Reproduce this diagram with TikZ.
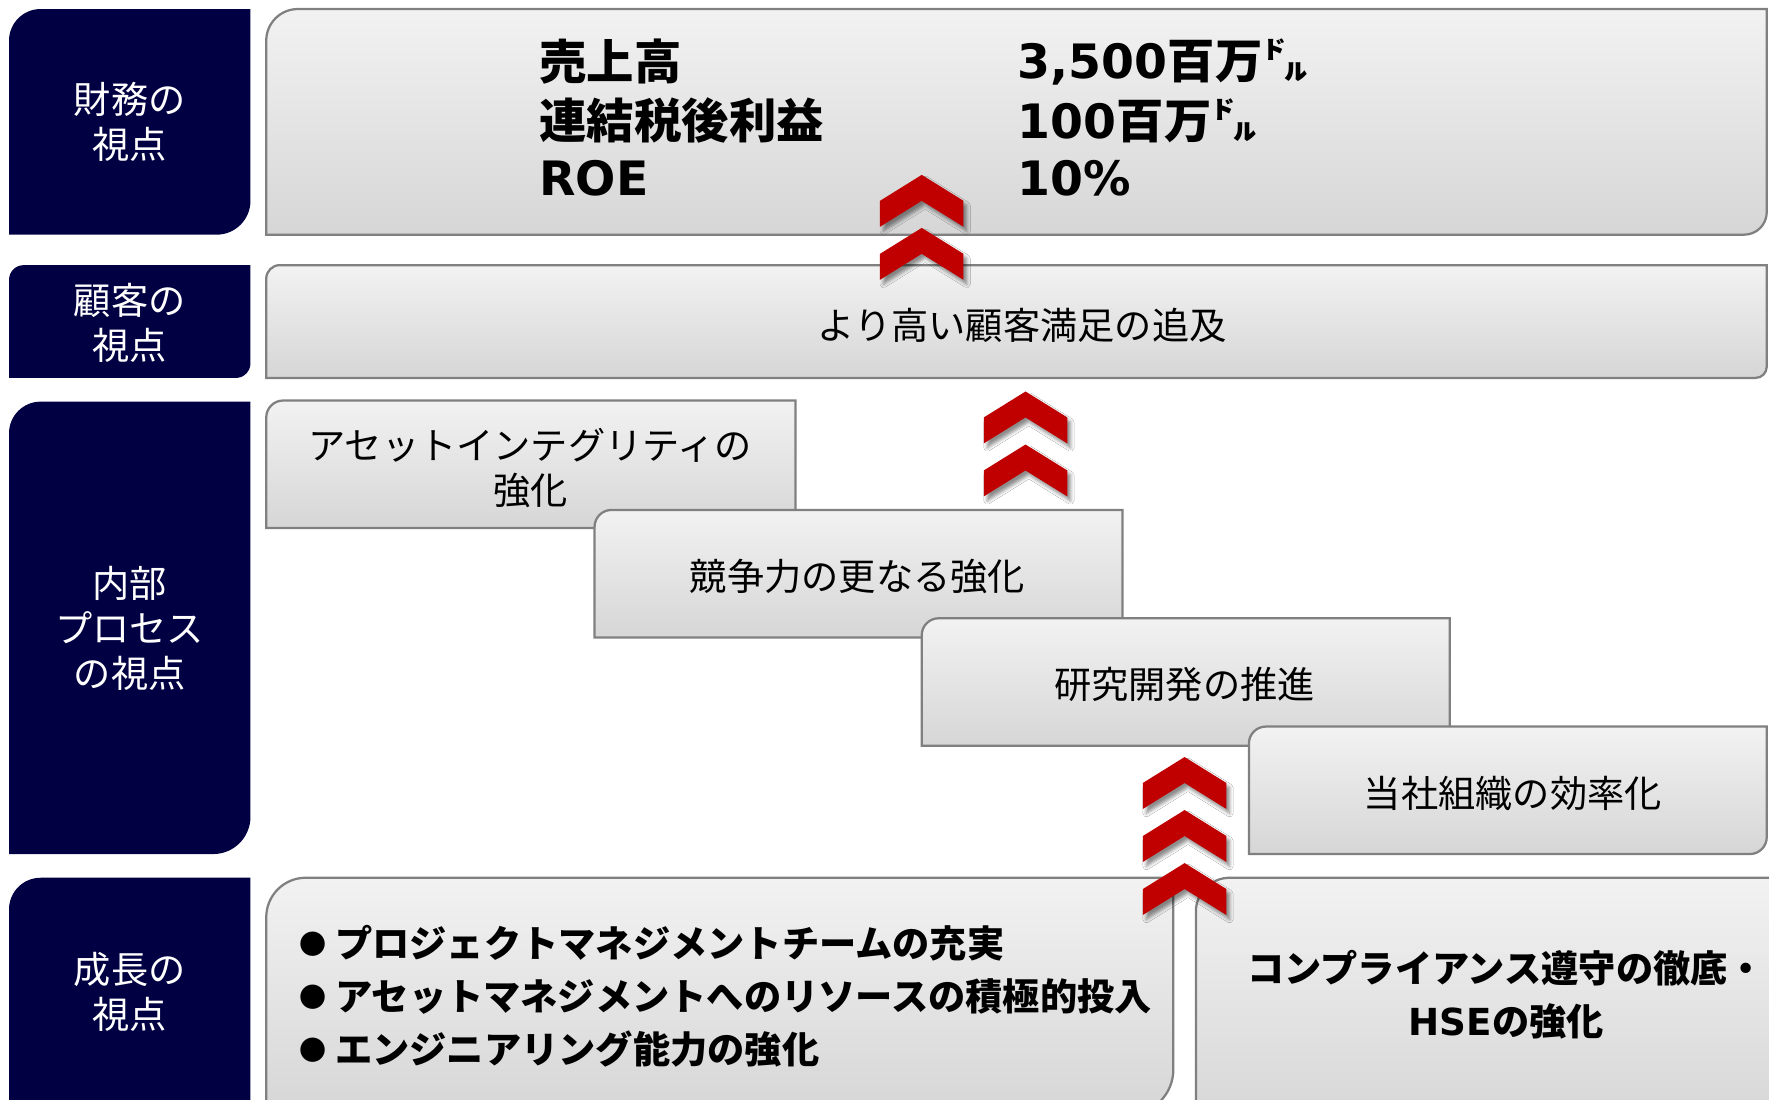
\documentclass[tikz,border=0pt]{standalone}
\usepackage{fontspec}
\setmainfont{Noto Sans CJK JP}
\newfontfamily\lat{DejaVu Sans}
\usetikzlibrary{shadows.blur}
\definecolor{navy}{RGB}{0,0,66}
\definecolor{chevred}{RGB}{192,0,0}
\definecolor{boxline}{RGB}{128,128,128}
\definecolor{gtop}{RGB}{242,242,242}
\definecolor{gbot}{RGB}{214,214,214}
% round-diagonal box: x1 y1 x2 y2 rTL rBR style
\newcommand{\rdbox}[7]{%
  \path[#7] (#1,#2+#5) arc[start angle=180,end angle=270,radius=#5] -- (#3,#2) -- (#3,#4-#6) arc[start angle=0,end angle=90,radius=#6] -- (#1,#4) -- cycle;}
\newcommand{\chev}[2]{%
  \path[chevron] (#1,#2) -- (#1+37,#2+23) -- (#1+37,#2+46) -- (#1,#2+23) -- (#1-37,#2+46) -- (#1-37,#2+23) -- cycle;}
\newcommand{\blt}{\makebox[32pt][l]{\raisebox{3pt}{\fontsize{24}{24}\selectfont●}}}
\tikzset{
  navybox/.style={fill=navy},
  greybox/.style={draw=boxline, line width=2, top color=gtop, bottom color=gbot},
  chevron/.style={fill=chevred, blur shadow={shadow xshift=3pt, shadow yshift=-4pt, shadow blur radius=3pt, shadow opacity=45}},
  lbl/.style={text=white, align=center, inner sep=0pt, font=\fontsize{33}{40}\selectfont},
  boxtxt/.style={text=black, align=center, inner sep=0pt, font=\fontsize{33}{40}\selectfont},
  fintxt/.style={text=black, anchor=west, inner sep=0pt, font=\fontsize{42}{52}\selectfont\bfseries},
  boldtxt/.style={text=black, inner sep=0pt, font=\fontsize{33}{47}\selectfont\bfseries}
}
\begin{document}
\begin{tikzpicture}[x=1pt,y=-1pt]
\useasboundingbox (0,0) rectangle (1568,975);
\clip (0,0) rectangle (1568,975);
\fill[white] (0,0) rectangle (1568,975);
% dark perspective labels
\rdbox{8}{8}{222}{208}{28}{30}{navybox}
\rdbox{8}{235}{222}{335}{13}{13}{navybox}
\rdbox{8}{356}{222}{757}{28}{33}{navybox}
\rdbox{8}{778}{222}{1000}{28}{10}{navybox}
\node[lbl] (lfin) at (115,108) {財務の\\視点};
\node[lbl] (lcust) at (115,286) {顧客の\\視点};
\node[lbl] (lproc) at (115,557) {内部\\プロセス\\の視点};
\node[lbl] (lgrow) at (115,879) {成長の\\視点};
% financial box
\rdbox{236}{8}{1566}{208}{28}{20}{greybox}
\node[fintxt] (f1a) at (478,55) {売上高};
\node[fintxt] (f2a) at (478,107) {連結税後利益};
\node[fintxt] (f3a) at (478,158) {{\lat ROE}};
\node[fintxt] (f1b) at (902,55) {{\lat 3,500}百万㌦};
\node[fintxt] (f2b) at (902,107) {{\lat 100}百万㌦};
\node[fintxt] (f3b) at (902,158) {{\lat 10\%}};
% customer box
\rdbox{236}{235}{1566}{335}{12}{10}{greybox}
\node[boxtxt] (cust) at (906,288) {より高い顧客満足の追及};
% internal process staircase
\rdbox{236}{355}{705}{468}{15}{15}{greybox}
\node[boxtxt] (pa) at (470,415) {アセットインテグリティの\\強化};
\rdbox{527}{452}{995}{565}{15}{15}{greybox}
\node[boxtxt] (pb) at (760,511) {競争力の更なる強化};
\rdbox{817}{548}{1285}{661}{15}{15}{greybox}
\node[boxtxt] (pc) at (1050,607) {研究開発の推進};
\rdbox{1107}{644}{1566}{757}{15}{15}{greybox}
\node[boxtxt] (pd) at (1341,703) {当社組織の効率化};
% growth boxes
\rdbox{236}{778}{1040}{988}{35}{40}{greybox}
\node[boldtxt, align=left, anchor=west] (ge) at (265,883) {\blt プロジェクトマネジメントチームの充実\\\blt アセットマネジメントへのリソースの積極的投入\\\blt エンジニアリング能力の強化};
\rdbox{1060}{778}{1600}{1000}{30}{10}{greybox}
\node[boldtxt, align=center] (gf) at (1335,882) {コンプライアンス遵守の徹底・\\{\lat HSE}の強化};
% chevrons
\chev{817}{155}
\chev{817}{202}
\chev{909}{347}
\chev{909}{394}
\chev{1050}{671}
\chev{1050}{718}
\chev{1050}{765}
\end{tikzpicture}
\end{document}
